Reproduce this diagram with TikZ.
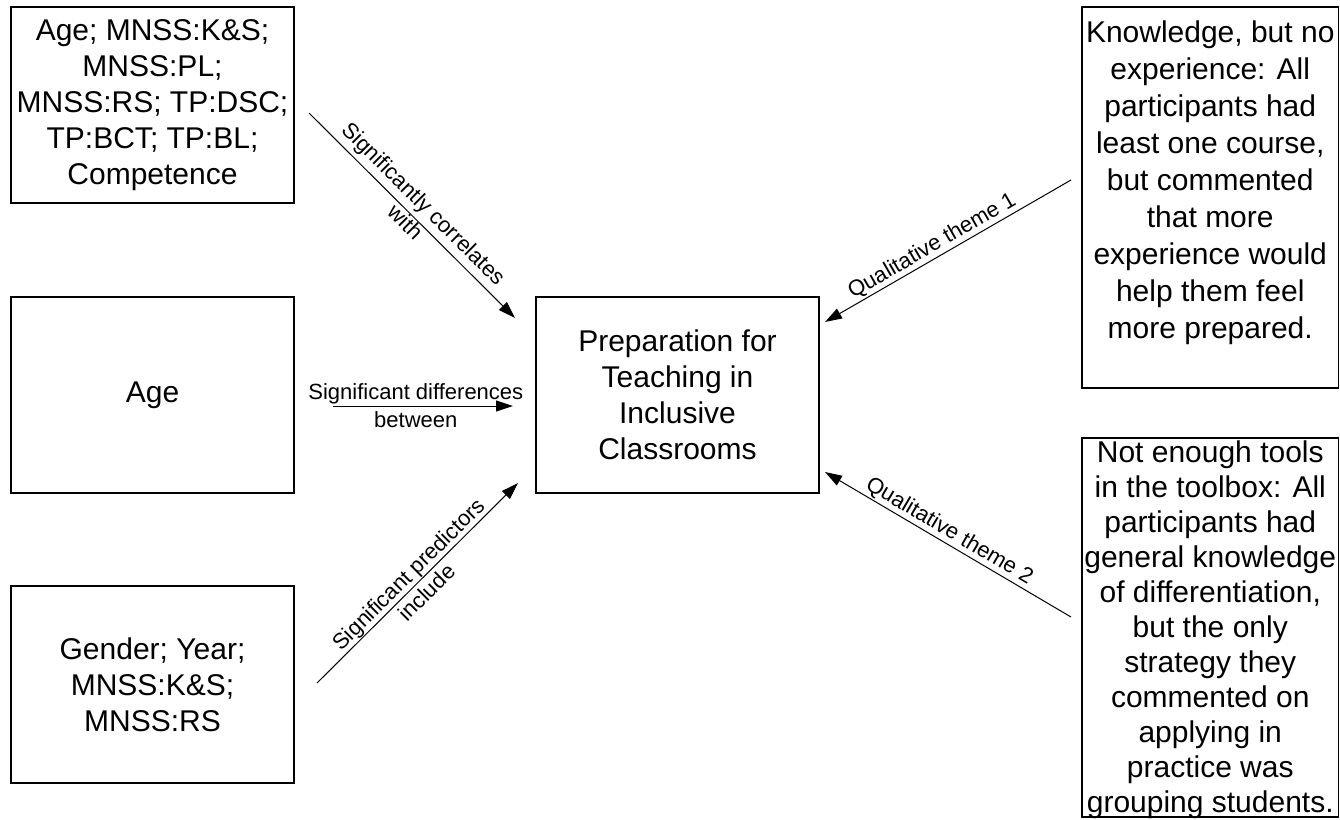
\documentclass[tikz,border=0pt]{standalone}
\usepackage{fontspec}
\setmainfont{Liberation Sans}
\usetikzlibrary{arrows.meta}
\newcommand{\boxfont}{\fontsize{30}{36}\selectfont}
\newcommand{\lblfont}{\fontsize{22}{26}\selectfont}
\tikzset{
  box/.style={draw=black, line width=1.3pt, inner sep=0pt, align=center, font=\boxfont},
  boxtext/.style={inner sep=0pt, align=center},
  lbl/.style={font=\lblfont, align=center, inner sep=1.5pt},
  conn/.style={draw=black, line width=1pt, -{Triangle[length=17pt,width=11pt]}}
}
\begin{document}
\begin{tikzpicture}[x=1pt,y=-1pt]
\useasboundingbox (0,0) rectangle (1340,819);
% left column
\node[box, minimum width=283pt, minimum height=196pt] (tl) at (152.5,105)
  {Age; MNSS:K\&S;\\MNSS:PL;\\MNSS:RS; TP:DSC;\\TP:BCT; TP:BL;\\Competence};
\node[box, minimum width=283pt, minimum height=196pt] (ml) at (152.5,395) {Age};
\node[box, minimum width=283pt, minimum height=197pt] (bl) at (152.5,684.5)
  {Gender; Year;\\MNSS:K\&S;\\MNSS:RS};
% centre
\node[box, minimum width=283pt, minimum height=196pt] (c) at (677.5,395)
  {Preparation for\\Teaching in\\Inclusive\\Classrooms};
% right column
\node[box, minimum width=256.5pt, minimum height=381pt] (rt) at (1210.25,197.5) {};
\node[boxtext, font=\fontsize{30}{37}\selectfont] (rtt) at (1210.25,183)
  {Knowledge, but no\\experience: All\\participants had\\least one course,\\but commented\\that more\\experience would\\help them feel\\more prepared.};
\node[box, minimum width=256.5pt, minimum height=379pt] (rb) at (1210.25,627.5) {};
\node[boxtext, font=\fontsize{30}{35}\selectfont] (rbt) at (1210.25,630)
  {Not enough tools\\in the toolbox: All\\participants had\\general knowledge\\of differentiation,\\but the only\\strategy they\\commented on\\applying in\\practice was\\grouping students.};
% connector ends
\coordinate (s1) at (309,113);  \coordinate (e1) at (515,318);
\coordinate (s2) at (333,406);  \coordinate (e2) at (513,406);
\coordinate (s3) at (317,683);  \coordinate (e3) at (518,483);
\coordinate (s4) at (1071,180); \coordinate (e4) at (825,322);
\coordinate (s5) at (1071,617); \coordinate (e5) at (825,472);
% connectors
\draw[conn] (s1) -- node[lbl, sloped, pos=0.5, yshift=4pt] {Significantly correlates\\with} (e1);
\draw[conn] (s2) -- node[lbl, pos=0.46, font=\fontsize{22}{28}\selectfont] {Significant differences\\between} (e2);
\draw[conn] (s3) -- node[lbl, sloped, pos=0.5] {Significant predictors\\include} (e3);
\draw[conn] (s4) -- node[lbl, sloped, above, pos=0.54] {Qualitative theme 1} (e4);
\draw[conn] (s5) -- node[lbl, sloped, above, pos=0.52] {Qualitative theme 2} (e5);
\end{tikzpicture}
\end{document}
